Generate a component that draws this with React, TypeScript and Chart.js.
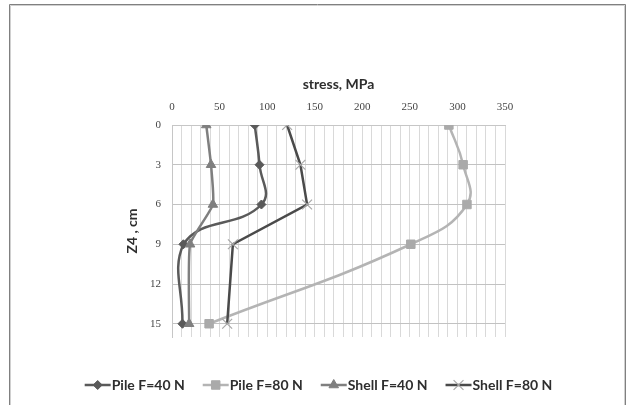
import React, { useEffect, useRef } from "react";
import { Chart, registerables } from "chart.js";
import { drawPoint } from "chart.js/helpers";

Chart.register(...registerables);

const depths = [0, 3, 6, 9, 15];
const pile40 = [87, 92, 94, 12, 11];
const pile80 = [291, 306, 310, 251, 39];
const shell40 = [36, 41, 43, 19, 18];
const shell80 = [121, 135, 142, 64, 58];
const seriesNames = ["Pile F=40 N", "Pile F=80 N", "Shell F=40 N", "Shell F=80 N"];
const xTickLabels = [0, 50, 100, 150, 200, 250, 300, 350];
const yTickLabels = [0, 3, 6, 9, 12, 15];

const toPts = (vals: number[]) => vals.map((v, i) => ({ x: v, y: depths[i] }));

const framePlugin = {
  id: "frame",
  beforeDraw(chart: any) {
    const ctx = chart.ctx;
    ctx.save();
    ctx.fillStyle = "#ffffff";
    ctx.fillRect(0, 0, chart.width, chart.height);
    ctx.lineWidth = 1;
    ctx.strokeStyle = "#808080";
    ctx.beginPath();
    ctx.moveTo(9.5, 420);
    ctx.lineTo(9.5, 4.5);
    ctx.lineTo(625.5, 4.5);
    ctx.lineTo(625.5, 420);
    ctx.stroke();
    ctx.strokeStyle = "#d0d0d0";
    ctx.beginPath();
    ctx.moveTo(10.5, 420);
    ctx.lineTo(10.5, 5.5);
    ctx.lineTo(624.5, 5.5);
    ctx.lineTo(624.5, 420);
    ctx.stroke();
    ctx.restore();
  },
};

const legendPlugin = {
  id: "customLegend",
  afterDraw(chart: any) {
    const ctx = chart.ctx;
    ctx.save();
    ctx.font = "bold 14px Lato";
    ctx.textBaseline = "middle";
    const lineLen = 26;
    const gap = 19;
    const ds = chart.data.datasets;
    const widths = ds.map((d: any) => ctx.measureText(d.label).width);
    const total = widths.reduce((a: number, b: number) => a + b, 0) + lineLen * ds.length + gap * (ds.length - 1);
    let x = 318 - total / 2;
    const y = 385;
    ds.forEach((d: any, i: number) => {
      ctx.strokeStyle = d.borderColor;
      ctx.lineWidth = 2.5;
      ctx.beginPath();
      ctx.moveTo(x, y);
      ctx.lineTo(x + lineLen, y);
      ctx.stroke();
      ctx.fillStyle = d.pointBackgroundColor;
      ctx.strokeStyle = d.pointBorderColor;
      ctx.lineWidth = d.pointBorderWidth;
      drawPoint(ctx, { pointStyle: d.pointStyle, radius: d.pointRadius, rotation: 0, borderWidth: d.pointBorderWidth }, x + lineLen / 2, y);
      ctx.fillStyle = "#2e2e2e";
      ctx.fillText(d.label, x + lineLen + 1, y);
      x += lineLen + widths[i] + gap;
    });
    ctx.restore();
  },
};

export default function App() {
  const ref = useRef<HTMLCanvasElement>(null);
  useEffect(() => {
    if (!ref.current) return;
    const chart = new Chart(ref.current, {
      type: "line",
      data: {
        datasets: [
          {
            label: seriesNames[0],
            data: toPts(pile40),
            borderColor: "#5a5a5a",
            borderWidth: 2.5,
            tension: 0.45,
            pointStyle: "rectRot",
            pointRadius: 4.5,
            pointBackgroundColor: "#5a5a5a",
            pointBorderColor: "#5a5a5a",
            pointBorderWidth: 1,
            order: 3,
          },
          {
            label: seriesNames[1],
            data: toPts(pile80),
            borderColor: "#b4b4b4",
            borderWidth: 2.5,
            tension: 0.45,
            pointStyle: "rect",
            pointRadius: 6,
            pointBackgroundColor: "#aaaaaa",
            pointBorderColor: "#aaaaaa",
            pointBorderWidth: 1,
            order: 2,
          },
          {
            label: seriesNames[2],
            data: toPts(shell40),
            borderColor: "#7f7f7f",
            borderWidth: 2.5,
            tension: 0.15,
            pointStyle: "triangle",
            pointRadius: 5.5,
            pointBackgroundColor: "#7f7f7f",
            pointBorderColor: "#7f7f7f",
            pointBorderWidth: 1,
            order: 1,
          },
          {
            label: seriesNames[3],
            data: toPts(shell80),
            borderColor: "#4a4a4a",
            borderWidth: 2.5,
            tension: 0,
            pointStyle: "crossRot",
            pointRadius: 7,
            pointBackgroundColor: "#a8a8a8",
            pointBorderColor: "#a8a8a8",
            pointBorderWidth: 1.2,
            order: 0,
          },
        ],
      },
      options: {
        responsive: false,
        animation: false,
        layout: { padding: { left: 120, right: 122, top: 70, bottom: 68 } },
        plugins: { legend: { display: false }, tooltip: { enabled: false }, title: { display: false } },
        scales: {
          x: {
            type: "linear",
            position: "top",
            min: 0,
            max: 350,
            ticks: {
              stepSize: 10,
              padding: 11,
              color: "#454545",
              font: { family: "Liberation Serif", size: 11 },
              maxRotation: 0,
              autoSkip: false,
              callback: (v: any) => (xTickLabels.includes(Number(v)) ? String(v) : ""),
            },
            grid: { color: "#d9d9d9", lineWidth: 1, drawTicks: false },
            border: { color: "#c6c6c6" },
            title: {
              display: true,
              text: "stress, MPa",
              color: "#2e2e2e",
              font: { family: "Lato", size: 14, weight: "bold" },
              padding: { top: 6, bottom: 0 },
            },
            afterFit: (s: any) => {
              s.height = 55;
            },
          },
          y: {
            type: "linear",
            reverse: true,
            min: 0,
            max: 16,
            afterBuildTicks: (s: any) => {
              s.ticks = yTickLabels.map((v) => ({ value: v }));
            },
            ticks: {
              padding: 11,
              color: "#454545",
              font: { family: "Liberation Serif", size: 11 },
            },
            grid: { color: "#c2c2c2", lineWidth: 1, drawTicks: false },
            border: { color: "#c6c6c6" },
            title: {
              display: true,
              text: "Z4 , cm",
              color: "#2e2e2e",
              font: { family: "Lato", size: 14, weight: "bold" },
              padding: { top: 4, bottom: 0 },
            },
            afterFit: (s: any) => {
              s.width = 52;
            },
          },
        },
      },
      plugins: [framePlugin, legendPlugin],
    });
    return () => chart.destroy();
  }, []);
  return (
    <div style={{ position: "absolute", left: 0, top: 0, width: 627, height: 405 }}>
      <canvas ref={ref} width={627} height={405} style={{ display: "block" }} />
    </div>
  );
}
